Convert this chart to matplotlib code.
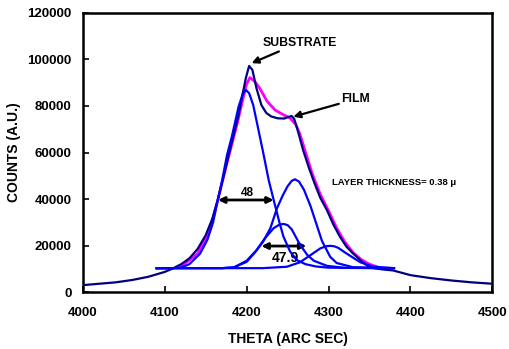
import matplotlib
matplotlib.use("Agg")
import matplotlib.pyplot as plt

plt.rcParams['font.family'] = ['Liberation Sans', 'DejaVu Sans']
plt.rcParams['font.weight'] = 'bold'

# Measured rocking curve (navy)
meas_x = [4000, 4020, 4040, 4060, 4080, 4100, 4110, 4120, 4130, 4140, 4150, 4158, 4165,
          4172, 4178, 4184, 4190, 4195, 4199, 4203, 4207, 4212, 4218, 4224, 4230, 4238,
          4246, 4251, 4255, 4258, 4262, 4269, 4276, 4283, 4290, 4298, 4306, 4314, 4322,
          4330, 4342, 4351, 4365, 4379, 4400, 4425, 4450, 4475, 4500]
meas_y = [3000, 3600, 4200, 5200, 6600, 8700, 10200, 12000, 14500, 18500, 24500, 31500, 40000,
          50000, 59000, 67500, 76000, 85000, 92000, 97200, 95500, 87600, 80400, 77000, 75500, 74700,
          74600, 75300, 75700, 74500, 70000, 61000, 53500, 46700, 40500, 35300, 29000, 23800, 19500,
          16600, 12800, 10500, 9800, 9300, 7300, 6000, 5000, 4200, 3600]

# Fitted sum (magenta)
fit_x = [4120, 4140, 4155, 4165, 4176, 4189, 4196, 4200, 4204, 4210, 4216, 4225, 4235, 4245,
         4253, 4260, 4265, 4272, 4280, 4290, 4300, 4310, 4320, 4330, 4340, 4350, 4360]
fit_y = [11000, 16500, 26500, 40000, 55500, 73200, 84000, 89500, 92200, 90500, 87600, 82000,
         78200, 76200, 74800, 72000, 68000, 60000, 51000, 42000, 35000, 27500, 21500, 17000,
         14000, 12000, 10800]

# Component peaks (blue)
sub_x = [4090, 4110, 4120, 4130, 4143, 4152, 4159, 4165, 4170, 4176, 4182, 4190, 4195, 4199,
         4203, 4208, 4214, 4220, 4227, 4233, 4240, 4245, 4253, 4261, 4272, 4285, 4300, 4380]
sub_y = [10200, 10300, 10600, 12000, 16500, 22500, 30000, 40000, 48000, 58900, 67000, 79500,
         85000, 86900, 85500, 80400, 70400, 60300, 48000, 39600, 30000, 23800, 17500, 13800,
         12000, 11000, 10500, 10300]

film1_x = [4090, 4170, 4184, 4200, 4210, 4220, 4229, 4237, 4244, 4250, 4255, 4259, 4264, 4270,
           4278, 4292, 4302, 4310, 4330, 4380]
film1_y = [10300, 10300, 10600, 13000, 17000, 21600, 27500, 36000, 41500, 45500, 47800, 48500,
           47500, 44000, 37000, 22000, 15200, 12500, 10700, 10300]

film2_x = [4090, 4170, 4185, 4200, 4212, 4222, 4233, 4240, 4245, 4250, 4255, 4265, 4274, 4282,
           4298, 4320, 4380]
film2_y = [10300, 10300, 10700, 13500, 18000, 23000, 27500, 29000, 29300, 28800, 27000, 20500,
           16000, 13500, 11300, 10400, 10300]

film3_x = [4090, 4220, 4249, 4265, 4278, 4290, 4297, 4302, 4307, 4312, 4322, 4339, 4355, 4380]
film3_y = [10300, 10300, 10900, 12800, 15900, 18800, 19700, 19900, 19700, 19000, 16600, 12800,
           10900, 10300]

x_ticks = [4000, 4100, 4200, 4300, 4400, 4500]
y_ticks = [0, 20000, 40000, 60000, 80000, 100000, 120000]

fig = plt.figure(figsize=(5.09, 3.49), dpi=100)
ax = fig.add_axes([0.163, 0.163, 0.804, 0.8])

ax.plot(fit_x, fit_y, color='#ff00ff', lw=2.0, zorder=2, solid_joinstyle='round')
ax.plot(meas_x, meas_y, color='#000080', lw=1.6, zorder=3, solid_joinstyle='round')
for cx, cy in [(sub_x, sub_y), (film1_x, film1_y), (film2_x, film2_y), (film3_x, film3_y)]:
    ax.plot(cx, cy, color='#0000ff', lw=1.6, zorder=4, solid_joinstyle='round')

ax.set_xlim(4000, 4500)
ax.set_ylim(0, 120000)
ax.set_xticks(x_ticks)
ax.set_yticks(y_ticks)
ax.set_xticklabels([str(t) for t in x_ticks], fontsize=9.5, fontweight='bold')
ax.set_yticklabels([str(t) for t in y_ticks], fontsize=9.5, fontweight='bold')
ax.tick_params(axis='x', direction='in', length=4, width=1.2, pad=11)
ax.tick_params(axis='y', direction='in', length=4, width=1.2, pad=8)
for s in ax.spines.values():
    s.set_linewidth(1.8)

ax.set_xlabel('THETA (ARC SEC)', fontsize=10, fontweight='bold', labelpad=9)
ax.set_ylabel('COUNTS (A.U.)', fontsize=10, fontweight='bold', labelpad=5)

arrow_kw = dict(arrowstyle='-|>', color='black', lw=1.6, mutation_scale=10, shrinkA=0, shrinkB=0)
ax.annotate('SUBSTRATE', xy=(4206, 98400), xytext=(4219, 107200), fontsize=8.8,
            fontweight='bold', va='center', ha='left', arrowprops=arrow_kw)
ax.annotate('FILM', xy=(4257, 75400), xytext=(4316, 83000), fontsize=8.8,
            fontweight='bold', va='center', ha='left', arrowprops=arrow_kw)

dbl = dict(arrowstyle='<|-|>', color='black', lw=2.0, mutation_scale=9, shrinkA=0, shrinkB=0)
ax.annotate('', xy=(4165, 39600), xytext=(4233, 39600), arrowprops=dbl)
ax.text(4201, 39900, '48', fontsize=8.5, fontweight='bold', ha='center', va='bottom')
ax.annotate('', xy=(4218, 19800), xytext=(4273, 19800), arrowprops=dbl)
ax.text(4247, 14500, '47.9', fontsize=10, fontweight='bold', ha='center', va='center')

ax.text(4304, 47200, 'LAYER THICKNESS= 0.38 \u03bc', fontsize=6.8, fontweight='bold',
        ha='left', va='center')

fig.savefig('out.png', dpi=100)
